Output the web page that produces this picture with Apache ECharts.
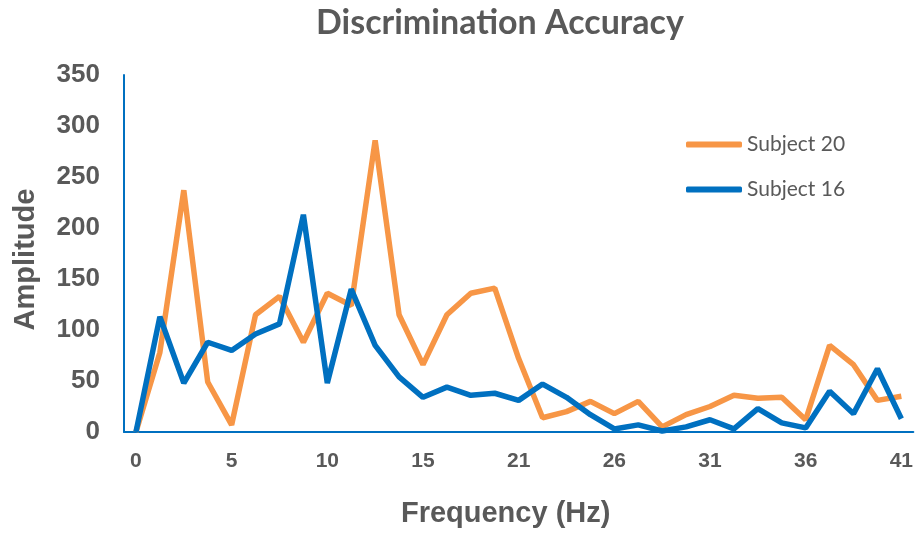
<!DOCTYPE html>
<html>
<head>
<meta charset="utf-8">
<script src="https://cdn.jsdelivr.net/npm/echarts@6/dist/echarts.min.js"></script>
<style>
  html, body { margin: 0; padding: 0; background: #fff; }
  #chart { width: 916px; height: 533px; }
</style>
</head>
<body>
<div id="chart"></div>
<script>
// Frequency bins (Hz, rounded) along the x axis
const frequencies = [0, 1, 3, 4, 5, 6, 8, 9, 10, 12, 13, 14, 15, 17, 18, 19, 21,
  22, 23, 24, 26, 27, 28, 29, 31, 32, 33, 35, 36, 37, 38, 40, 41];

// Spectral amplitude per subject
const subject20 = [0, 78, 237, 49, 7, 115, 133, 88, 136, 124, 286, 115, 66, 115, 136, 141, 72,
  14, 20, 30, 18, 30, 5, 17, 25, 36, 33, 34, 12, 85, 66, 31, 35];
const subject16 = [0, 113, 48, 88, 80, 96, 106, 213, 48, 140, 85, 54, 34, 44, 36, 38, 31,
  47, 34, 17, 3, 7, 1, 5, 12, 3, 23, 9, 4, 40, 18, 62, 13];

const seriesNames = ['Subject 20', 'Subject 16'];
const seriesColors = ['#F79646', '#0070C0'];

const textColor = '#595959';
const axisFont = '"Liberation Sans", Arial, sans-serif';

const chart = echarts.init(document.getElementById('chart'));
chart.setOption({
  animation: false,
  backgroundColor: '#ffffff',
  title: {
    text: 'Discrimination Accuracy',
    left: 311,
    top: 1,
    textStyle: {
      fontFamily: 'Lato, sans-serif',
      fontWeight: 'bold',
      fontSize: 34,
      color: textColor
    }
  },
  legend: {
    orient: 'vertical',
    left: 681,
    top: 129,
    itemGap: 24,
    itemWidth: 56,
    itemHeight: 6,
    textStyle: { fontFamily: 'Lato, sans-serif', fontSize: 21, color: textColor },
    data: seriesNames.map((n, i) => ({ name: n, icon: 'roundRect', itemStyle: { color: seriesColors[i] } }))
  },
  grid: { left: 124, right: 0, top: 75, bottom: 101 },
  xAxis: {
    type: 'category',
    data: frequencies.map(String),
    boundaryGap: true,
    name: 'Frequency (Hz)',
    nameLocation: 'middle',
    nameGap: 67,
    nameTextStyle: {
      fontFamily: axisFont,
      fontWeight: 'bold',
      fontSize: 29,
      color: textColor,
      padding: [0, 26, 0, 0]
    },
    axisLine: { lineStyle: { color: '#0070C0', width: 2 } },
    axisTick: { show: false },
    axisLabel: {
      interval: 3,
      margin: 19,
      fontFamily: axisFont,
      fontWeight: 'bold',
      fontSize: 21,
      color: textColor
    },
    splitLine: { show: false }
  },
  yAxis: {
    type: 'value',
    min: 0,
    max: 350,
    interval: 50,
    name: 'Amplitude',
    nameLocation: 'middle',
    nameRotate: 90,
    nameGap: 84,
    nameTextStyle: {
      fontFamily: axisFont,
      fontWeight: 'bold',
      fontSize: 29,
      color: textColor,
      padding: [0, 12, 0, 0]
    },
    axisLine: { show: true, lineStyle: { color: '#0070C0', width: 2 } },
    axisTick: { show: false },
    axisLabel: {
      margin: 24,
      fontFamily: axisFont,
      fontWeight: 'bold',
      fontSize: 26,
      color: textColor
    },
    splitLine: { show: false }
  },
  series: [
    {
      name: seriesNames[0],
      type: 'line',
      data: subject20,
      showSymbol: false,
      color: seriesColors[0],
      lineStyle: { width: 5.5, color: seriesColors[0] }
    },
    {
      name: seriesNames[1],
      type: 'line',
      data: subject16,
      showSymbol: false,
      color: seriesColors[1],
      lineStyle: { width: 5.5, color: seriesColors[1] }
    }
  ]
});
</script>
</body>
</html>
